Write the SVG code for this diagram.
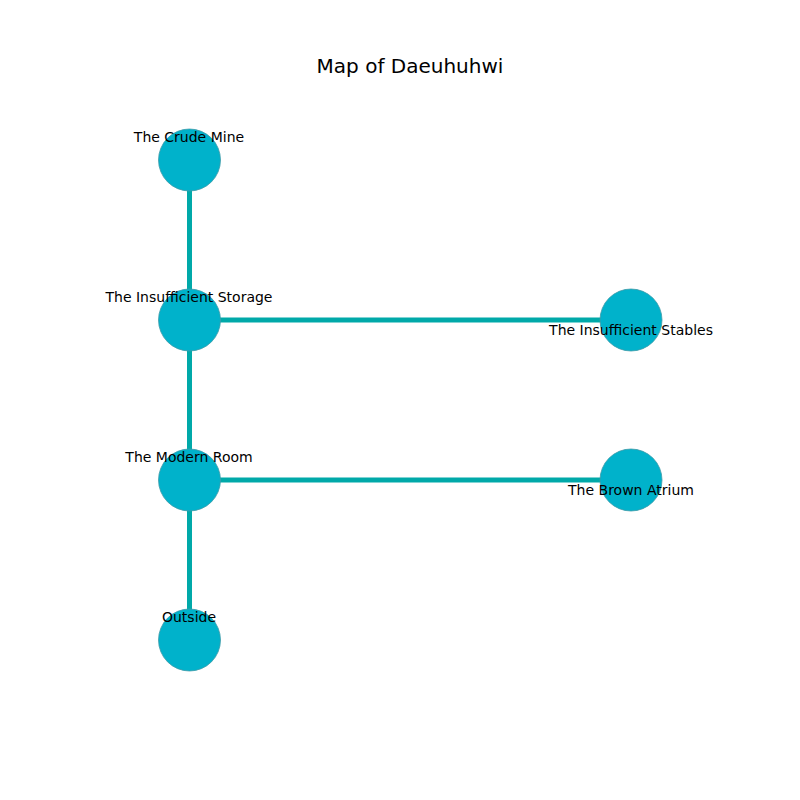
<svg xmlns="http://www.w3.org/2000/svg" width="800" height="800" viewBox="0 0 800 800">
<style>
.edge{stroke:#00a9a9;stroke-width:5;fill:none}
.node{fill:#00b2cb;stroke:#3d9aa8;stroke-width:0.8}
.lbl{font-family:"DejaVu Sans",sans-serif;font-size:14px;fill:#000;text-anchor:middle}
.title{font-family:"DejaVu Sans",sans-serif;font-size:20px;fill:#000;text-anchor:middle}
</style>
<rect width="800" height="800" fill="#fff"/>
<text class="title" x="410" y="73">Map of Daeuhuhwi</text>
<g id="connectors">
<line class="edge" x1="189.5" y1="160" x2="189.5" y2="320"/>
<line class="edge" x1="189.5" y1="320" x2="631" y2="320"/>
<line class="edge" x1="189.5" y1="320" x2="189.5" y2="480"/>
<line class="edge" x1="189.5" y1="480" x2="631" y2="480"/>
<line class="edge" x1="189.5" y1="480" x2="189.5" y2="640"/>
</g>
<g id="n1"><circle class="node" cx="189.5" cy="160" r="31"/></g>
<g id="n2"><circle class="node" cx="189.5" cy="320" r="31"/></g>
<g id="n3"><circle class="node" cx="631" cy="320" r="31"/></g>
<g id="n4"><circle class="node" cx="189.5" cy="480" r="31"/></g>
<g id="n5"><circle class="node" cx="631" cy="480" r="31"/></g>
<g id="n6"><circle class="node" cx="189.5" cy="640" r="31"/></g>
<g id="labels">
<text class="lbl" x="189" y="142">The Crude Mine</text>
<text class="lbl" x="189" y="302">The Insufficient Storage</text>
<text class="lbl" x="631" y="335">The Insufficient Stables</text>
<text class="lbl" x="189" y="462">The Modern Room</text>
<text class="lbl" x="631" y="495">The Brown Atrium</text>
<text class="lbl" x="189" y="622">Outside</text>
</g>
</svg>
